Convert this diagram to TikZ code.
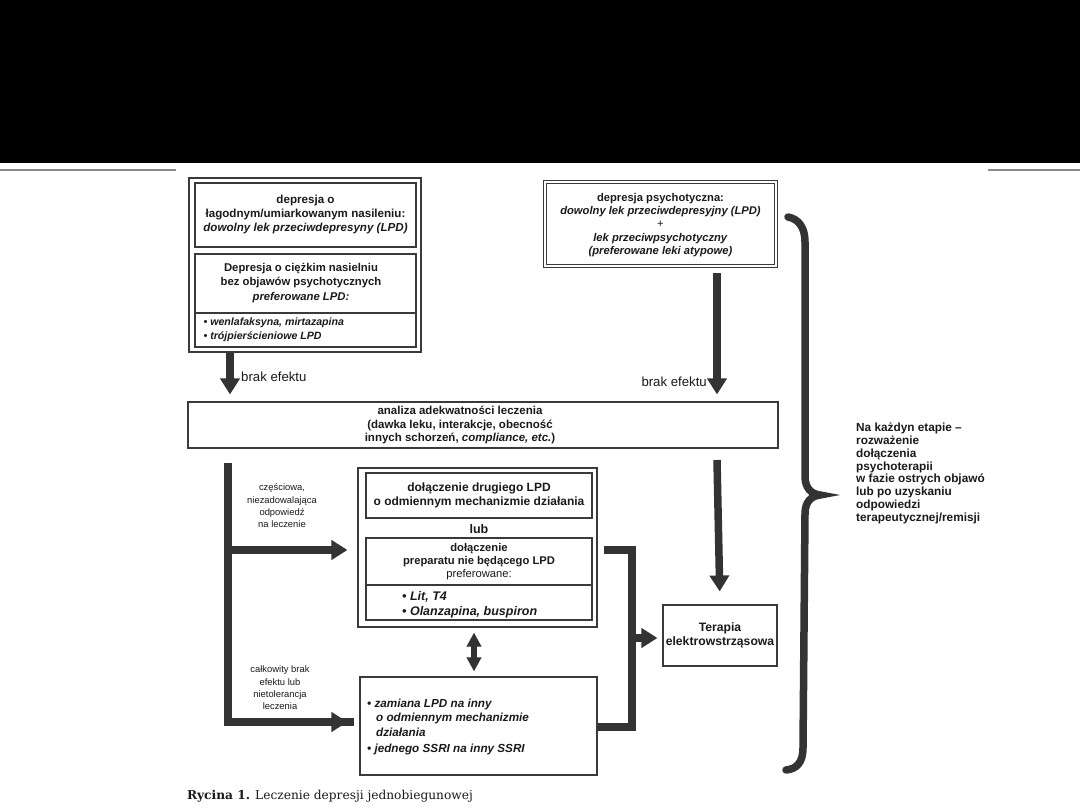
\documentclass[tikz,border=0pt]{standalone}
\usepackage{fontspec}
\setmainfont{Liberation Sans}
\newfontfamily\capfont{DejaVu Serif}
\usetikzlibrary{arrows.meta,calc}
\definecolor{arrc}{HTML}{333333}
\definecolor{boxc}{HTML}{3A3A3A}
\definecolor{txtc}{HTML}{1A1A1A}
\definecolor{rulec}{HTML}{8A8A8A}
\tikzset{
  boxnode/.style={draw=boxc, line width=1.1pt, inner sep=0pt, align=center, text=txtc,
    font=\fontsize{11.5}{13.5}\selectfont\bfseries},
  txtnode/.style={inner sep=0pt, text=txtc, font=\fontsize{11.5}{13.5}\selectfont\bfseries},
  lbl/.style={inner sep=0pt, text=txtc, font=\fontsize{13.2}{15}\selectfont},
  smalllbl/.style={inner sep=0pt, text=txtc, align=center, font=\fontsize{9.4}{12.3}\selectfont},
  bigarrow/.style={draw=arrc, line width=7.5pt, -{Triangle[width=19pt,length=16pt]}},
  bigline/.style={draw=arrc, line width=7.5pt, line join=miter},
  dblarrow/.style={draw=arrc, line width=6pt, {Triangle[width=14pt,length=14pt]}-{Triangle[width=14pt,length=14pt]}},
  bracestroke/.style={draw=arrc, line width=7.5pt, line cap=round}
}
\begin{document}
\begin{tikzpicture}[x=1pt,y=-1pt]
\useasboundingbox (0,0) rectangle (1080,810);
\fill[white] (0,0) rectangle (1080,810);
\fill[black] (0,0) rectangle (1080,163);
\draw[rulec, line width=1.4pt] (0,170) -- (176,170);
\draw[rulec, line width=1.4pt] (988,170) -- (1080,170);

% left top group
\node[draw=boxc, line width=1.1pt, minimum width=232pt, minimum height=174pt] (leftframe) at (305,265) {};
\node[boxnode, minimum width=221pt, minimum height=64pt, font=\fontsize{11.6}{14}\selectfont\bfseries] (boxA) at (305.5,215)
  {depresja o\\łagodnym/umiarkowanym nasileniu:\\\textit{dowolny lek przeciwdepresyny (LPD)}};
\node[boxnode, minimum width=221pt, minimum height=59pt] (boxB1) at (305.5,283.5) {};
\node[txtnode, align=center, font=\fontsize{11.3}{14.5}\selectfont\bfseries] (b1txt) at (301,283)
  {Depresja o ciężkim nasielniu\\bez objawów psychotycznych\\\textit{preferowane LPD:}};
\node[boxnode, minimum width=221pt, minimum height=34pt] (boxB2) at (305.5,330) {};
\node[txtnode, anchor=west, align=left, font=\fontsize{10.6}{14}\selectfont\bfseries\itshape] (b2txt) at ([xshift=9pt]boxB2.west)
  {• wenlafaksyna, mirtazapina\\• trójpierścieniowe LPD};

% psychotic box
\node[boxnode, double=white, double distance=2.2pt, line width=0.9pt, minimum width=231pt, minimum height=84pt,
  font=\fontsize{11.2}{13.4}\selectfont\bfseries] (psych) at (660.5,224) {};
\node[txtnode, align=center, font=\fontsize{11.2}{13.4}\selectfont\bfseries] (psychtxt) at (660.5,225)
  {depresja psychotyczna:\\\textit{dowolny lek przeciwdepresyjny (LPD)}\\\mdseries +\\\textit{lek przeciwpsychotyczny}\\\textit{(preferowane leki atypowe)}};

% analysis box
\node[draw=boxc, line width=1.1pt, minimum width=590pt, minimum height=46pt] (analiza) at (483,425) {};
\node[txtnode, align=center, font=\fontsize{11.5}{13.2}\selectfont\bfseries] (analizatxt) at (460,425)
  {analiza adekwatności leczenia\\(dawka leku, interakcje, obecność\\innych schorzeń, \textit{compliance, etc.})};

% middle group
\node[draw=boxc, line width=1.1pt, minimum width=239pt, minimum height=159pt] (midframe) at (477.5,547.5) {};
\node[boxnode, minimum width=226pt, minimum height=45pt, font=\fontsize{12}{14.5}\selectfont\bfseries] (inner1) at (479,495.5)
  {dołączenie drugiego LPD\\o odmiennym mechanizmie działania};
\node[txtnode, font=\fontsize{12.5}{14}\selectfont\bfseries] (lub) at (479,529.5) {lub};
\node[boxnode, minimum width=226pt, minimum height=47pt, font=\fontsize{11.2}{12.8}\selectfont\bfseries] (inner2a) at (479,561.5)
  {dołączenie\\preparatu nie będącego LPD\\\mdseries preferowane:};
\node[boxnode, minimum width=226pt, minimum height=35pt] (inner2b) at (479,602.5) {};
\node[txtnode, anchor=west, align=left, font=\fontsize{12.5}{15}\selectfont\bfseries\itshape] (i2btxt) at (402,604.5)
  {• Lit, T4\\• Olanzapina, buspiron};

% bottom box
\node[draw=boxc, line width=1.1pt, minimum width=237pt, minimum height=98pt] (bottom) at (478.5,726) {};
\node[txtnode, anchor=west, align=left, font=\fontsize{11.7}{14.5}\selectfont\bfseries\itshape] (bottomtxt) at (367,727)
  {• zamiana LPD na inny\\\hspace*{9pt}o odmiennym mechanizmie\\\hspace*{9pt}działania\\[2pt]• jednego SSRI na inny SSRI};

% ECT box
\node[boxnode, minimum width=114pt, minimum height=61pt, font=\fontsize{12.2}{14}\selectfont\bfseries] (terapia) at (720,635.5)
  {Terapia\\elektrowstrząsowa};

% coordinates
\coordinate (xA) at (230,0);
\coordinate (xB) at (717,0);
\coordinate (xG) at (474,0);
\coordinate (cTop) at (228,463);
\coordinate (cMid) at (228,550);
\coordinate (cBot) at (228,722);
\coordinate (dB) at (632,550);
\coordinate (dC) at (632,727);
\coordinate (dE) at (632,638);
\coordinate (fTop) at (717,460);

% arrows
\draw[bigarrow, shorten >=7pt] (leftframe.south -| xA) -- (analiza.north -| xA);
\node[lbl, anchor=west] (brak1) at (241,377) {brak efektu};
\draw[bigarrow, shorten <=7pt, shorten >=7pt] (psych.south -| xB) -- (analiza.north -| xB);
\node[lbl, anchor=east] (brak2) at (707,382) {brak efektu};

\draw[bigline] (cTop) -- (cBot) -- ([xshift=-5pt]cBot -| bottom.west);
\draw[bigarrow, shorten >=12pt] ([xshift=-3.75pt]cBot) -- (cBot -| bottom.west);
\draw[bigarrow, shorten >=10pt] (cMid) -- (cMid -| midframe.west);
\node[smalllbl] (czesc) at (282,506) {częściowa,\\niezadowalająca\\odpowiedź\\na leczenie};
\node[smalllbl] (calk) at (280,688) {całkowity brak\\efektu lub\\nietolerancja\\leczenia};

\draw[bigline] ([xshift=6pt]midframe.east |- dB) -- (dB) -- (dC) -- (bottom.east |- dC);
\draw[bigarrow, shorten >=5pt] (dE) -- (dE -| terapia.west);
\draw[bigarrow, shorten >=13pt] (fTop) -- (terapia.north);
\draw[dblarrow, shorten <=5pt, shorten >=5pt] (midframe.south -| xG) -- (bottom.north -| xG);

% brace
\draw[bracestroke] (788,217) .. controls (799,219) and (805,228) .. (805,242)
  -- (805,476) .. controls (805,488) and (811,494) .. (820,495)
  .. controls (811,496) and (805,502) .. (805,514)
  -- (803,748) .. controls (803,762) and (797,769) .. (786,770);
\node[txtnode, anchor=north west, align=left, font=\fontsize{11.8}{12.8}\selectfont\bfseries] (side) at (856,423)
  {Na każdyn etapie --\\rozważenie\\dołączenia\\psychoterapii\\w fazie ostrych objawó\\lub po uzyskaniu\\odpowiedzi\\terapeutycznej/remisji};

% caption
\node[anchor=base west, inner sep=0pt, text=txtc, font=\capfont\fontsize{12.2}{14}\selectfont] (caption) at (187,799)
  {\textbf{Rycina 1.} Leczenie depresji jednobiegunowej};
\end{tikzpicture}
\end{document}
